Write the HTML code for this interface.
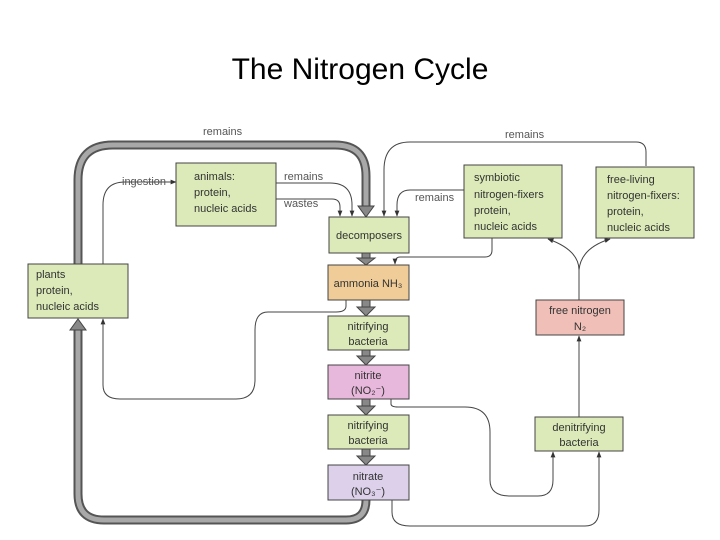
<!DOCTYPE html>
<html><head><meta charset="utf-8"><style>
html,body{margin:0;padding:0;background:#fff;}
svg{display:block;}
text{font-family:"Liberation Sans",sans-serif;}
</style></head><body>
<svg width="720" height="540" viewBox="0 0 720 540" xmlns="http://www.w3.org/2000/svg">
<defs>
<marker id="a" viewBox="0 0 10 10" refX="9" refY="5" markerWidth="6" markerHeight="6" orient="auto"><path d="M0,1 L10,5 L0,9 z" fill="#333"/></marker>
</defs>
<text x="360" y="79" font-size="30" text-anchor="middle" fill="#000">The Nitrogen Cycle</text>

<!-- thick gray arrows -->
<g fill="none" stroke="#555" stroke-width="9" stroke-linejoin="round">
<path d="M78,264 V180 Q78,145 113,145 H335 Q366,145 366,176 V208"/>
<path d="M366,500 V500 Q366,520 346,520 H104 Q78,520 78,494 V328"/>
</g>
<g fill="none" stroke="#a8a8a8" stroke-width="5" stroke-linejoin="round">
<path d="M78,264 V180 Q78,145 113,145 H335 Q366,145 366,176 V208"/>
<path d="M366,500 V500 Q366,520 346,520 H104 Q78,520 78,494 V328"/>
</g>
<g fill="#888" stroke="#444" stroke-width="1">
<path d="M358,206 L374,206 L366,217 z"/>
<path d="M70,330 L86,330 L78,319 z"/>
<rect x="362" y="253" width="8" height="6"/><path d="M357,258 L375,258 L366,265 z"/>
<rect x="362" y="300" width="8" height="8"/><path d="M357,307 L375,307 L366,316 z"/>
<rect x="362" y="350" width="8" height="7"/><path d="M357,356 L375,356 L366,365 z"/>
<rect x="362" y="399" width="8" height="8"/><path d="M357,406 L375,406 L366,415 z"/>
<rect x="362" y="449" width="8" height="8"/><path d="M357,456 L375,456 L366,465 z"/>
</g>

<!-- thin connectors -->
<g fill="none" stroke="#444" stroke-width="1" marker-end="url(#a)">
<path d="M103,264 V205 Q103,182 125,182 H176"/>
<path d="M276,183 H330 Q352,183 352,205 V216"/>
<path d="M276,199 H332 Q340,199 340,207 V216"/>
<path d="M646,166 V152 Q646,142 636,142 H410 Q384,142 384,170 V216"/>
<path d="M464,190 H410 Q397,190 397,205 V216"/>
<path d="M492,238 V250 Q492,257 485,257 H400 Q395,257 395,264"/>
<path d="M346,300 V306 Q346,312 336,312 H268 Q255,312 255,330 V380 Q255,399 236,399 H120 Q103,399 103,385 V319"/>
<path d="M391,399 V404 Q391,407 398,407 H465 Q490,407 490,432 V480 Q490,496 510,496 H538 Q553,496 553,480 V452"/>
<path d="M392,500 V512 Q392,526 410,526 H585 Q599,526 599,510 V452"/>
<path d="M579,417 V336"/>
<path d="M579,300 V270 Q579,250 548,239"/>
<path d="M579,270 Q581,248 610,239"/>
</g>

<!-- boxes -->
<g stroke="#444" stroke-width="1">
<rect x="176" y="163" width="100" height="63" fill="#dbeab8"/>
<rect x="28" y="264" width="100" height="54" fill="#dbeab8"/>
<rect x="329" y="217" width="80" height="36" fill="#dbeab8"/>
<rect x="328" y="265" width="81" height="35" fill="#f0cc98"/>
<rect x="328" y="316" width="81" height="34" fill="#dbeab8"/>
<rect x="328" y="365" width="81" height="34" fill="#e8b8dc"/>
<rect x="328" y="415" width="81" height="34" fill="#dbeab8"/>
<rect x="328" y="465" width="81" height="35" fill="#dcd0ea"/>
<rect x="464" y="165" width="98" height="73" fill="#dbeab8"/>
<rect x="596" y="167" width="98" height="71" fill="#dbeab8"/>
<rect x="536" y="300" width="88" height="35" fill="#f0c0b8"/>
<rect x="535" y="417" width="88" height="34" fill="#dbeab8"/>
</g>

<g font-size="11" fill="#333">
<text x="194" y="180">animals:</text><text x="194" y="196">protein,</text><text x="194" y="212">nucleic acids</text>
<text x="36" y="278">plants</text><text x="36" y="294">protein,</text><text x="36" y="310">nucleic acids</text>
<text x="369" y="239" text-anchor="middle">decomposers</text>
<text x="368" y="287" text-anchor="middle">ammonia NH₃</text>
<text x="368" y="330" text-anchor="middle">nitrifying</text><text x="368" y="345" text-anchor="middle">bacteria</text>
<text x="368" y="379" text-anchor="middle">nitrite</text><text x="368" y="394" text-anchor="middle">(NO₂⁻)</text>
<text x="368" y="429" text-anchor="middle">nitrifying</text><text x="368" y="444" text-anchor="middle">bacteria</text>
<text x="368" y="480" text-anchor="middle">nitrate</text><text x="368" y="495" text-anchor="middle">(NO₃⁻)</text>
<text x="474" y="181">symbiotic</text><text x="474" y="198">nitrogen-fixers</text><text x="474" y="214">protein,</text><text x="474" y="230">nucleic acids</text>
<text x="607" y="183">free-living</text><text x="607" y="199">nitrogen-fixers:</text><text x="607" y="215">protein,</text><text x="607" y="231">nucleic acids</text>
<text x="580" y="314" text-anchor="middle">free nitrogen</text><text x="580" y="330" text-anchor="middle">N₂</text>
<text x="579" y="431" text-anchor="middle">denitrifying</text><text x="579" y="446" text-anchor="middle">bacteria</text>
</g>
<g font-size="11" fill="#555">
<text x="203" y="135">remains</text>
<text x="122" y="185">ingestion</text>
<text x="284" y="180">remains</text>
<text x="284" y="207">wastes</text>
<text x="505" y="138">remains</text>
<text x="415" y="201">remains</text>
</g>
</svg>
</body></html>
